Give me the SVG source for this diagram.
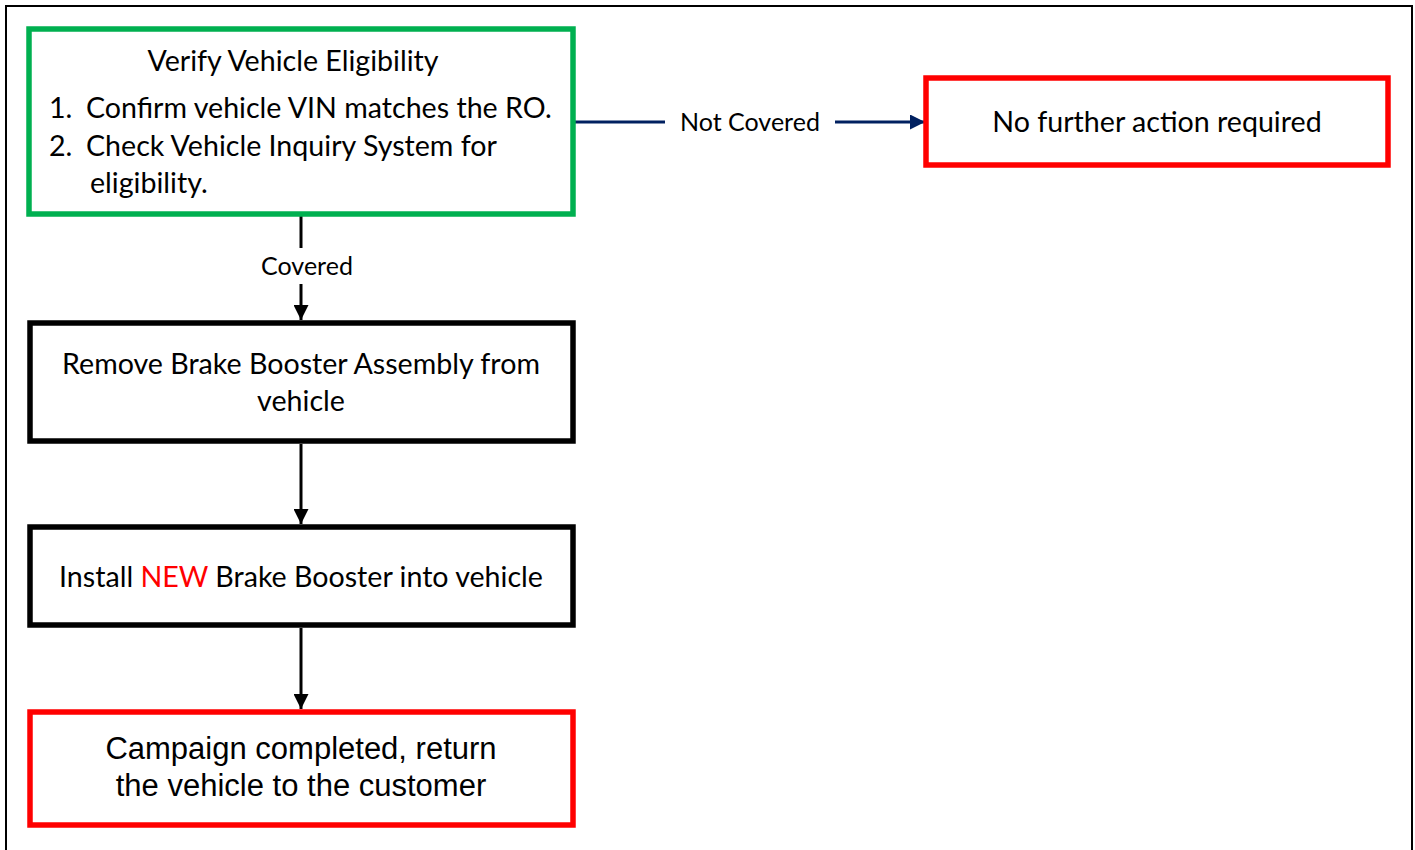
<svg xmlns="http://www.w3.org/2000/svg" width="1415" height="850" viewBox="0 0 1415 850">
<style>
.t{font-family:Lato,"Open Sans",sans-serif;font-size:28.6px;fill:#000}
.lbl{font-family:Lato,"Open Sans",sans-serif;font-size:25px;fill:#000}
.a{font-family:"Liberation Sans",Arial,sans-serif;font-size:31px;fill:#000}
.box{fill:#fff;stroke-width:5.5}
</style>
<defs>
<marker id="ab" viewBox="0 0 10 10" refX="10" refY="5" markerWidth="5" markerHeight="5" orient="auto" markerUnits="strokeWidth"><path d="M0,0 L10,5 L0,10 z" fill="#000"/></marker>
<marker id="an" viewBox="0 0 10 10" refX="10" refY="5" markerWidth="5" markerHeight="5" orient="auto" markerUnits="strokeWidth"><path d="M0,0 L10,5 L0,10 z" fill="#002060"/></marker>
</defs>
<rect width="1415" height="850" fill="#fff"/>
<rect x="6" y="6" width="1406" height="870" fill="none" stroke="#000" stroke-width="2"/>
<g id="connectors">
<line x1="575" y1="122" x2="665" y2="122" stroke="#002060" stroke-width="3"/>
<text class="lbl" x="750" y="131" text-anchor="middle">Not Covered</text>
<line x1="835" y1="122" x2="925" y2="122" stroke="#002060" stroke-width="3" marker-end="url(#an)"/>
<line x1="301" y1="216" x2="301" y2="248" stroke="#000" stroke-width="3"/>
<text class="lbl" x="307" y="275" text-anchor="middle">Covered</text>
<line x1="301" y1="284" x2="301" y2="320" stroke="#000" stroke-width="3" marker-end="url(#ab)"/>
<line x1="301" y1="444" x2="301" y2="524" stroke="#000" stroke-width="3" marker-end="url(#ab)"/>
<line x1="301" y1="628" x2="301" y2="709" stroke="#000" stroke-width="3" marker-end="url(#ab)"/>
</g>
<g id="verify">
<rect class="box" x="29" y="29" width="544" height="185" stroke="#00b050"/>
<text class="t" x="293" y="71" text-anchor="middle">Verify Vehicle Eligibility</text>
<text class="t" x="49" y="118">1.</text>
<text class="t" x="86" y="118">Confirm vehicle VIN matches the RO.</text>
<text class="t" x="49" y="156">2.</text>
<text class="t" x="86" y="156">Check Vehicle Inquiry System for</text>
<text class="t" x="90" y="193">eligibility.</text>
</g>
<g id="nofurther">
<rect class="box" x="926" y="78" width="462" height="87" stroke="#ff0000"/>
<text class="t" x="1157" y="132" text-anchor="middle">No further action required</text>
</g>
<g id="remove">
<rect class="box" x="30" y="323" width="543" height="118" stroke="#000"/>
<text class="t" x="301" y="374" text-anchor="middle">Remove Brake Booster Assembly from</text>
<text class="t" x="301" y="411" text-anchor="middle">vehicle</text>
</g>
<g id="install">
<rect class="box" x="30" y="527" width="543" height="98" stroke="#000"/>
<text class="t" x="301" y="587" text-anchor="middle">Install <tspan fill="#ff0000">NEW</tspan> Brake Booster into vehicle</text>
</g>
<g id="campaign">
<rect class="box" x="30" y="712" width="543" height="113" stroke="#ff0000"/>
<text class="a" x="301" y="759" text-anchor="middle">Campaign completed, return</text>
<text class="a" x="301" y="796" text-anchor="middle">the vehicle to the customer</text>
</g>
</svg>
